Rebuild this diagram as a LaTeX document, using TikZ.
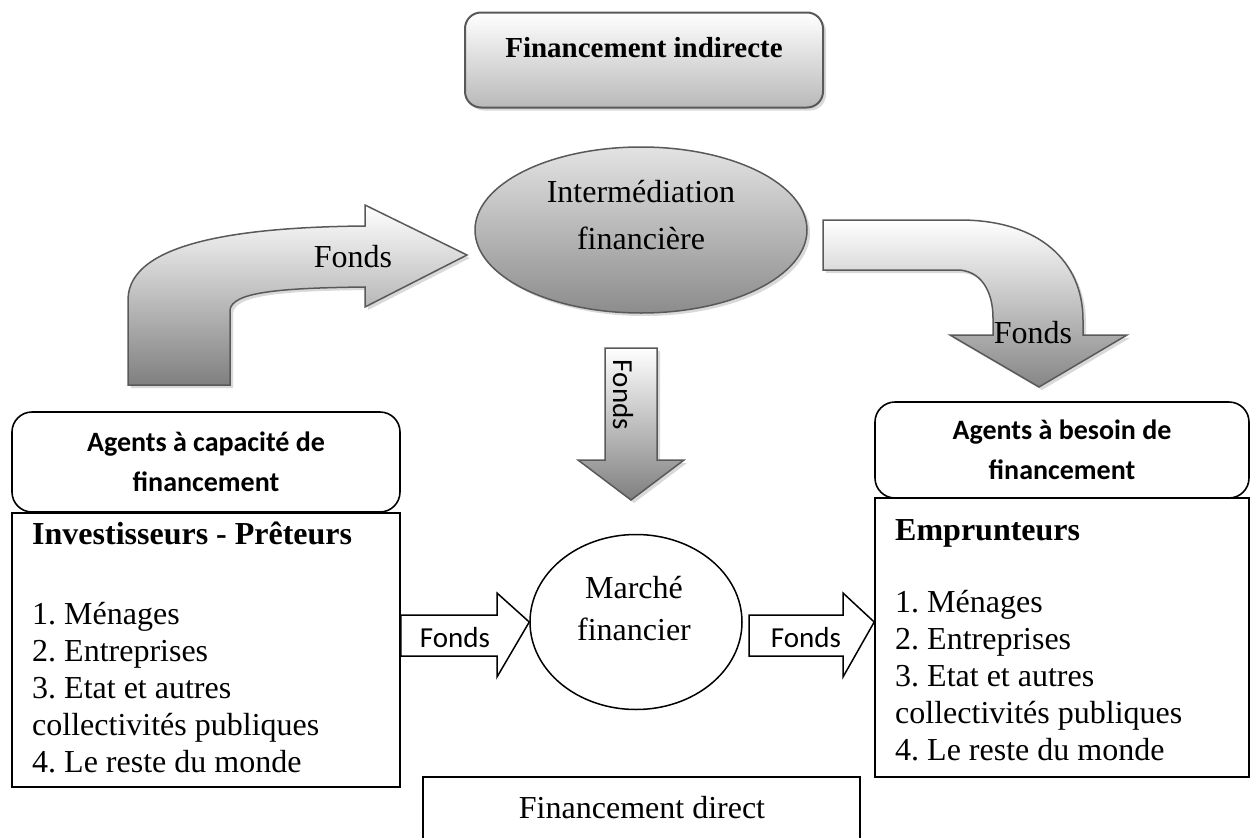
\documentclass[tikz,border=0pt]{standalone}
\usepackage{fontspec}
\setmainfont{Liberation Serif}
\newfontfamily\calibri{Carlito}
\usetikzlibrary{shapes.geometric,shadows,calc}
\frenchspacing
\tikzset{
  ombre/.style={drop shadow={shadow xshift=3pt,shadow yshift=-3pt,opacity=.3}},
  degrade/.style={draw=gray!70!black,line width=1.5pt,top color=white,bottom color=gray,ombre},
  boite/.style={draw,line width=1.6pt,inner sep=0pt},
  agent/.style={boite,rounded corners=20pt,align=center,font=\calibri\bfseries\fontsize{28}{40}\selectfont},
  txt/.style={inner sep=0pt,font=\fontsize{32}{37}\selectfont},
  fonds/.style={inner sep=0pt,font=\calibri\fontsize{29}{33}\selectfont},
  fleche/.style={draw,line width=1.5pt,fill=white,line join=miter}
}
\begin{document}
\begin{tikzpicture}[x=1pt,y=-1pt]
  \useasboundingbox (0,0) rectangle (1251,838);
  % financement indirect
  \node[draw=gray!70!black,line width=2pt,rounded corners=16pt,top color=white,bottom color=gray!55,ombre,
    minimum width=358pt,minimum height=95pt] (fi) at (644,60) {};
  \node[txt,font=\bfseries\fontsize{29}{33}\selectfont] (fitxt) at ($(fi.center)+(0,-12)$) {Financement indirecte};
  \node[ellipse,draw=gray!70!black,line width=1.5pt,top color=gray!22,bottom color=gray!90,ombre,
    minimum width=332pt,minimum height=166pt,inner sep=0pt] (im) at (641,230) {};
  \node[txt,align=center,font=\fontsize{32}{47}\selectfont] (imtxt) at ($(im.center)+(0,-15)$) {Intermédiation\\financière};
  \path[degrade] (128,385) -- (128,300) .. controls (128,240) and (250,227) .. (365,226) -- (365,205) -- (467,255)
    -- (365,307) -- (365,287) .. controls (280,288) and (232,292) .. (230,310) -- (230,385) -- cycle;
  \node[txt] (fl) at (353,257) {Fonds};
  \path[degrade,bottom color=gray!95] (823,220) -- (960,220) .. controls (1040,220) and (1083,262) .. (1083,320)
    -- (1083,335) -- (1127,335) -- (1039,387) -- (950,335) -- (993,335) -- (993,318)
    .. controls (993,290) and (980,270) .. (957,270) -- (823,270) -- cycle;
  \node[txt] (fr) at (1033,333) {Fonds};
  \path[degrade] (605,348) -- (657,348) -- (657,460) -- (684,460) -- (631,500) -- (578,460) -- (605,460) -- cycle;
  \node[fonds,rotate=-90] (fb) at (623,395) {Fonds};
  % agents
  \node[agent,minimum width=388pt,minimum height=100pt] (acf) at (206,462) {Agents à capacité de\\financement};
  \node[boite,minimum width=388pt,minimum height=274pt] (ip) at (206,650) {};
  \node[txt,font=\bfseries\fontsize{32}{37}\selectfont,anchor=base west] (iptit) at (32,544) {Investisseurs - Prêteurs};
  \node[txt,align=left,anchor=north west] (iplist) at (32,602)
    {1. Ménages\\2. Entreprises\\3. Etat et autres\\collectivités publiques\\4. Le reste du monde};
  \node[agent,minimum width=374pt,minimum height=96pt] (abf) at (1062,450) {Agents à besoin de\\financement};
  \node[boite,minimum width=374pt,minimum height=279pt] (em) at (1062,637.5) {};
  \node[txt,font=\bfseries\fontsize{32}{37}\selectfont,anchor=base west] (emtit) at (895,540) {Emprunteurs};
  \node[txt,align=left,anchor=north west] (emlist) at (895,590)
    {1. Ménages\\2. Entreprises\\3. Etat et autres\\collectivités publiques\\4. Le reste du monde};
  % financement direct
  \node[ellipse,draw,line width=1.5pt,minimum width=212pt,minimum height=175pt,inner sep=0pt] (mf) at (636,622) {};
  \node[txt,align=center,font=\fontsize{32}{42}\selectfont] (mftxt) at ($(mf.center)+(-2,-13)$) {Marché\\financier};
  \draw[fleche] (ip.east|-0,615) -- (497,615) -- (497,593) -- (mf.west) -- (497,677) -- (497,656) -- (ip.east|-0,656) -- cycle;
  \node[fonds] (fg) at (455,638) {Fonds};
  \draw[fleche] (749,615) -- (843,615) -- (843,593) -- (em.west|-mf.west) -- (843,677) -- (843,656) -- (749,656) -- cycle;
  \node[fonds] (fd2) at (806,638) {Fonds};
  \draw[line width=1.6pt] (423,839) -- (423,777) -- (860,777) -- (860,839);
  \node[txt] (fd) at (642,808) {Financement direct};
\end{tikzpicture}
\end{document}
